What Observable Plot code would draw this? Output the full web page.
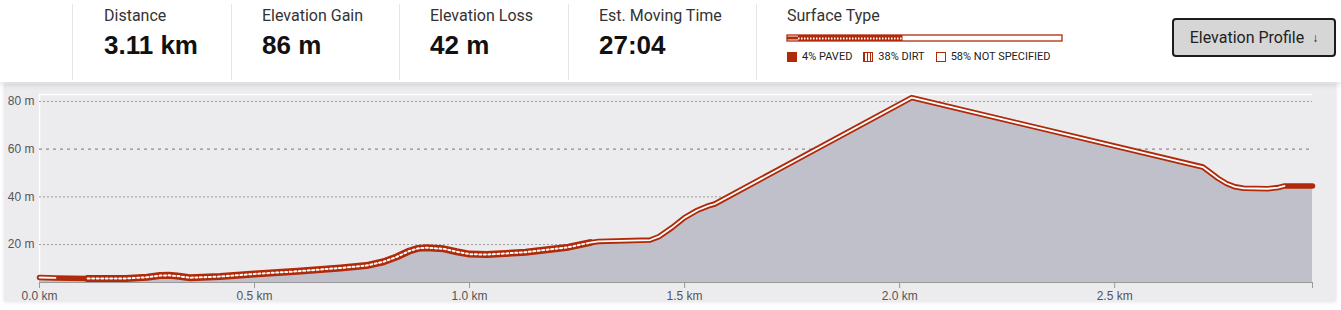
<!DOCTYPE html>
<html><head><meta charset="utf-8">
<script src="https://cdn.jsdelivr.net/npm/d3@7"></script>
<script src="https://cdn.jsdelivr.net/npm/@observablehq/plot@0.6"></script>
<style>
body{margin:0;width:1341px;height:310px;overflow:hidden;background:#fff;font-family:Roboto,"Liberation Sans",Arial,sans-serif;position:relative}
#panel{position:absolute;left:4px;top:84px;width:1332px;height:217px;background:#ececef;box-shadow:0 1px 4px rgba(0,0,0,.12)}
#chart{position:absolute;left:0;top:82px}
#header{position:absolute;left:0;top:0;width:1341px;height:82px;background:#fff;box-shadow:0 2px 6px rgba(0,0,0,.16);z-index:2}
.sep{position:absolute;top:4px;height:76px;width:1px;background:#e6e6e6}
.lab{position:absolute;top:6px;font-size:16px;color:#333;white-space:nowrap}
.val{position:absolute;top:30px;font:bold 26px "Liberation Sans",Arial,sans-serif;color:#111;white-space:nowrap}
#surfbar{position:absolute;left:786px;top:34px}
#legend{position:absolute;left:787px;top:50px;display:flex;align-items:center;font-size:11px;color:#222;white-space:nowrap}
#legend .it{display:flex;align-items:center;margin-right:11px}
#legend .sw{width:10px;height:10px;box-sizing:border-box;margin-right:5px}
#btn{position:absolute;left:1172px;top:18px;width:164px;height:39px;box-sizing:border-box;border:2px solid #1c1c1c;border-radius:4px;background:#d6d6d6;font-size:16px;color:#222;display:flex;align-items:center;justify-content:center;white-space:nowrap}
#btn span{font-size:12px;margin-left:8px}
</style></head>
<body>
<div id="panel"></div>
<div id="chart"></div>
<div id="header"></div>
<script>
const red = "#b02a0a";
const distKm = [0, 0.037, 0.112, 0.2, 0.25, 0.28, 0.3, 0.32, 0.35, 0.42, 0.5, 0.6, 0.7, 0.76, 0.8, 0.83, 0.86, 0.88, 0.9, 0.94, 0.97, 1.0, 1.04, 1.13, 1.23, 1.28, 1.3, 1.42, 1.44, 1.47, 1.5, 1.53, 1.555, 1.57, 2.028, 2.705, 2.72, 2.74, 2.76, 2.78, 2.8, 2.856, 2.88, 2.895, 2.96];
const elevM  = [6.2, 6.0, 5.8, 5.8, 6.3, 7.0, 7.1, 6.8, 6.1, 6.6, 7.7, 8.8, 10.2, 11.2, 12.8, 14.8, 17.3, 18.4, 18.7, 18.2, 17.0, 16.0, 15.8, 16.8, 18.9, 20.8, 21.3, 21.9, 23.3, 27.0, 31.3, 34.4, 36.2, 37.0, 81.6, 52.5, 50.5, 47.8, 45.6, 44.2, 43.6, 43.4, 43.9, 44.6, 44.6];
const yTicks = [20, 40, 60, 80];
const xTicks = [0, 0.5, 1, 1.5, 2, 2.5];
const xEnd = 2.96;
const yMin = 4.1, yMax = 82.9;
const surfBreaks = [0, 0.037, 0.112, 1.28, 2.895, 2.96];
const surfTypes = ["unknown", "paved", "dirt", "unknown", "paved"];
const surfNames = ["PAVED", "DIRT", "NOT SPECIFIED"];
const surfPct = [4, 38, 58];
const statLabels = ["Distance", "Elevation Gain", "Elevation Loss", "Est. Moving Time"];
const statValues = ["3.11 km", "86 m", "42 m", "27:04"];
const statX = [104, 262, 430, 599];
const sepX = [72, 231, 399, 568, 756];

// header
const header = document.getElementById("header");
sepX.forEach(x => { const s = document.createElement("div"); s.className = "sep"; s.style.left = x + "px"; header.appendChild(s); });
statLabels.forEach((l, i) => {
  const a = document.createElement("div"); a.className = "lab"; a.style.left = statX[i] + "px"; a.textContent = l; header.appendChild(a);
  const b = document.createElement("div"); b.className = "val"; b.style.left = statX[i] + "px"; b.textContent = statValues[i]; header.appendChild(b);
});
const st = document.createElement("div"); st.className = "lab"; st.style.left = "787px"; st.textContent = "Surface Type"; header.appendChild(st);

// surface bar
const cum = [0, surfPct[0], surfPct[0] + surfPct[1], 100];
const surfBar = Plot.plot({
  width: 277, height: 8, margin: 0,
  x: {domain: [0, 100], range: [1, 276], axis: null},
  y: {domain: [0, 1], range: [7, 1], axis: null},
  style: {background: "transparent", overflow: "visible"},
  marks: [
    Plot.rect([{a: 0, b: 100}], {x1: "a", x2: "b", y1: 0, y2: 1, fill: "#fff", stroke: red, strokeWidth: 1.3}),
    Plot.rect([{a: cum[0], b: cum[1]}], {x1: "a", x2: "b", y1: 0.25, y2: 0.75, fill: red}),
    Plot.rect([{a: cum[1], b: cum[2]}], {x1: "a", x2: "b", y1: 0, y2: 1, fill: red}),
    Plot.ruleY([0.5], {x1: cum[1], x2: cum[2], stroke: "#fff", strokeWidth: 2, strokeDasharray: "1.5,1.5"})
  ]
});
surfBar.id = "surfbar";
header.appendChild(surfBar);

const legend = document.createElement("div"); legend.id = "legend";
const swStyles = [
  `background:${red}`,
  `border:1.5px solid ${red};background:repeating-linear-gradient(90deg,${red} 0 1.5px,#fff 1.5px 3px)`,
  `border:1.5px solid ${red};background:#fff`
];
surfNames.forEach((n, i) => {
  const it = document.createElement("div"); it.className = "it";
  it.innerHTML = `<div class="sw" style="${swStyles[i]}"></div><span>${surfPct[i]}% ${n}</span>`;
  legend.appendChild(it);
});
header.appendChild(legend);

const btn = document.createElement("div"); btn.id = "btn";
btn.innerHTML = "Elevation Profile<span>&#8595;</span>";
header.appendChild(btn);

// chart
const profile = distKm.map((d, i) => ({d, e: elevM[i]}));
const segRows = [];
surfTypes.forEach((t, j) => {
  profile.filter(p => p.d >= surfBreaks[j] - 1e-9 && p.d <= surfBreaks[j + 1] + 1e-9)
    .forEach(p => segRows.push({...p, seg: j, type: t}));
});
const curve = "linear";
const chart = Plot.plot({
  width: 1341, height: 228,
  marginTop: 12, marginBottom: 28, marginLeft: 39, marginRight: 29,
  style: {background: "transparent", fontFamily: "'Liberation Sans',Arial,sans-serif", fontSize: "12px", color: "#555", overflow: "visible"},
  x: {domain: [0, xEnd], label: null},
  y: {domain: [yMin, yMax], label: null},
  marks: [
    Plot.ruleX([0], {stroke: "#fff", strokeWidth: 1.5}),
    Plot.ruleY([yMax], {stroke: "#fff", strokeWidth: 1.5}),
    Plot.ruleY(yTicks.filter(v => v !== 60), {stroke: "#9a9a9a", strokeDasharray: "2,2"}),
    Plot.ruleY(yTicks.filter(v => v === 60), {stroke: "#8c8c8c", strokeWidth: 1.4, strokeDasharray: "3,4"}),
    Plot.areaY(profile, {x: "d", y1: yMin, y2: "e", fill: "#c0c0cb", curve}),
    Plot.ruleY([yMin], {stroke: "#9a9a9a"}),
    Plot.line(profile, {x: "d", y: "e", stroke: red, strokeWidth: 5.5, curve, strokeLinejoin: "round"}),
    Plot.line(segRows.filter(r => r.type === "dirt"), {x: "d", y: "e", z: "seg", stroke: red, strokeWidth: 7, curve, strokeLinejoin: "round"}),
    Plot.line(segRows.filter(r => r.type === "unknown"), {x: "d", y: "e", z: "seg", stroke: "#fff", strokeWidth: 1.8, curve}),
    Plot.line(segRows.filter(r => r.type === "dirt"), {x: "d", y: "e", z: "seg", stroke: "#fff", strokeWidth: 2, strokeDasharray: "2,2.5", curve}),
    Plot.axisY({ticks: yTicks, tickFormat: d => d + " m", tickSize: 0, tickPadding: 5, fill: "#555", label: null}),
    Plot.axisX({ticks: [...xTicks, xEnd], tickFormat: d => d === xEnd ? "" : d.toFixed(1) + " km", tickSize: 6, tickPadding: 3, stroke: "#999", fill: "#555", label: null})
  ]
});
document.getElementById("chart").appendChild(chart);
</script>
</body></html>
